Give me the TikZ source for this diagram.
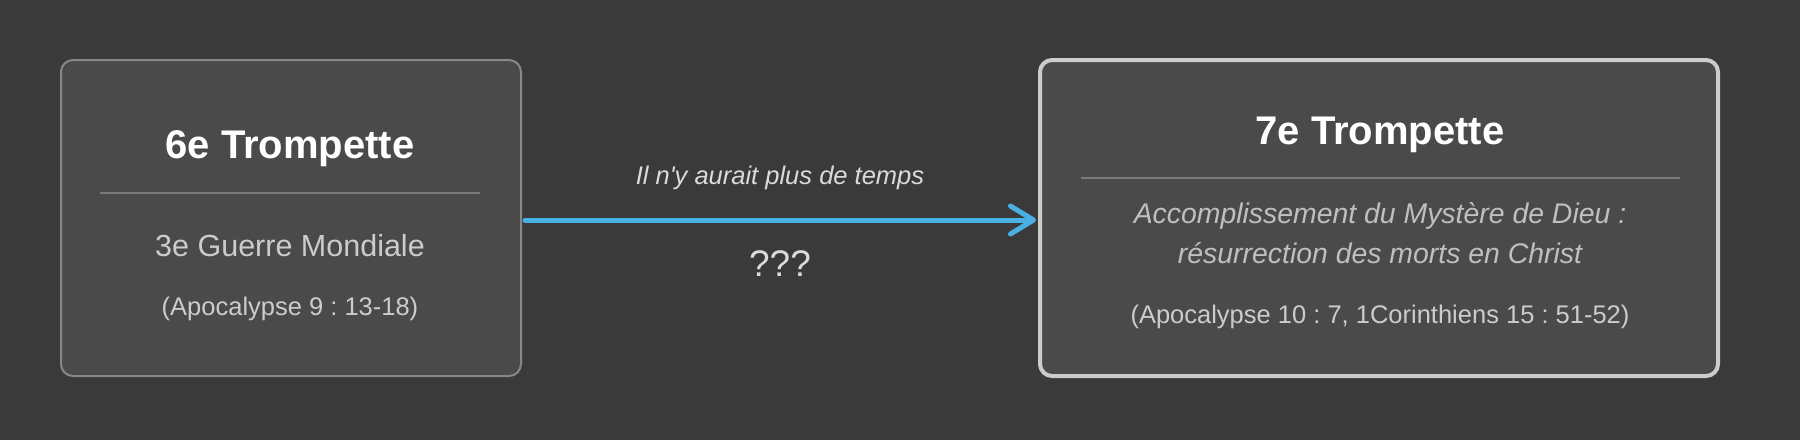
\documentclass[tikz,border=0pt]{standalone}
\usepackage{fontspec}
\setmainfont{Liberation Sans}
\usetikzlibrary{arrows.meta}
\frenchspacing
\definecolor{bgcol}{RGB}{58,58,58}
\definecolor{boxcol}{RGB}{74,74,74}
\definecolor{rulecol}{RGB}{122,122,122}
\definecolor{arrcol}{RGB}{72,176,228}
\colorlet{txtcol}{white!80!black}
\tikzstyle{trumpet}=[rounded corners=12pt,fill=boxcol,inner sep=0pt]
\tikzstyle{title}=[anchor=base,text=white,font=\bfseries\fontsize{40}{46}\selectfont]
\tikzstyle{body}=[anchor=base,text=txtcol,font=\fontsize{30.5}{36}\selectfont]
\tikzstyle{ref}=[anchor=base,text=txtcol,font=\fontsize{25.5}{30}\selectfont]
\tikzstyle{sep}=[rulecol,line width=1.5pt]
\tikzstyle{link}=[arrcol,line width=5pt,line cap=round,
  -{Straight Barb[length=23pt,width=28pt,round]}]

\begin{document}
\begin{tikzpicture}[x=1pt,y=-1pt]
  \useasboundingbox[fill=bgcol] (0,0) rectangle (1800,440);
  % Boxes
  \node[trumpet,draw=white!53!black,line width=2pt,
    minimum width=460pt,minimum height=316pt] (six) at (291,218) {};
  \node[trumpet,draw=white!80!black,line width=4pt,
    minimum width=678pt,minimum height=316pt] (seven) at (1379,218) {};
  % 6th trumpet
  \node[title] (sixtitle) at (290,158) {6e Trompette};
  \coordinate (sixl) at (100,193);
  \coordinate (sixr) at (480,193);
  \draw[sep] (sixl) -- (sixr);
  \node[body] (sixwar) at (290,256) {3e Guerre Mondiale};
  \node[ref] (sixref) at (290,315) {(Apocalypse 9 : 13-18)};
  % 7th trumpet
  \node[title] (seventitle) at (1380,144) {7e Trompette};
  \coordinate (sevenl) at (1081,178);
  \coordinate (sevenr) at (1680,178);
  \draw[sep] (sevenl) -- (sevenr);
  \node[body,font=\itshape\fontsize{28.4}{34}\selectfont,text=white!75!black]
    (sevenmyst) at (1380,223) {Accomplissement du Mystère de Dieu :};
  \node[body,font=\itshape\fontsize{28.4}{34}\selectfont,text=white!75!black]
    (sevenres) at (1380,263) {résurrection des morts en Christ};
  \node[ref] (sevenref) at (1380,323)
    {(Apocalypse 10 : 7, 1Corinthiens 15 : 51-52)};
  % Transition, 2pt below the box centres
  \draw[link,shorten <=3pt,shorten >=2pt] ([yshift=-2pt]six.east) --
    node[anchor=base,yshift=36pt,text=white!86!black,
      font=\itshape\fontsize{25.5}{30}\selectfont] (time)
      {Il n\textquotesingle y aurait plus de temps}
    node[anchor=base,yshift=-56pt,text=white!86!black,
      font=\fontsize{37}{42}\selectfont] (unknown) {???}
    ([yshift=-2pt]seven.west);
\end{tikzpicture}
\end{document}
